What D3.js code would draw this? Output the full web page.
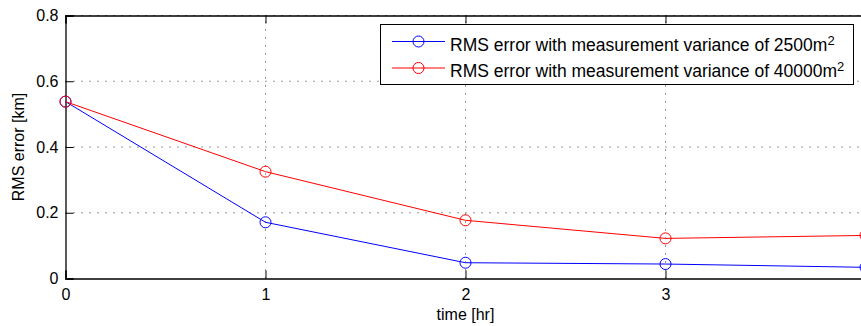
<!DOCTYPE html>
<html><head><meta charset="utf-8">
<script src="https://cdn.jsdelivr.net/npm/d3@7"></script>
<style>body{margin:0;background:#fff}svg{display:block}text{font-family:"Liberation Sans",Arial,sans-serif;}</style>
</head><body><svg id="c" width="861" height="326"></svg>
<script>
const times = [0, 1, 2, 3, 4];
const blueVals = [0.538, 0.171, 0.048, 0.044, 0.034];
const redVals = [0.538, 0.325, 0.177, 0.122, 0.131];
const xTicks = [0, 1, 2, 3, 4];
const yTicks = [0, 0.2, 0.4, 0.6, 0.8];
const yTickLabels = ["0", "0.2", "0.4", "0.6", "0.8"];
const legendLabels = ["RMS error with measurement variance of 2500m", "RMS error with measurement variance of 40000m"];
const colors = ["#0000ff", "#ff0000"];

const svg = d3.select("#c");
const x = d3.scaleLinear().domain([0, 4]).range([65.5, 865.5]);
const y = d3.scaleLinear().domain([0, 0.8]).range([278.5, 15.5]);

// grid
const grid = svg.append("g");
xTicks.slice(1).forEach(t => grid.append("line").attr("x1", x(t)).attr("x2", x(t)).attr("y1", y(0)).attr("y2", y(0.8))
  .attr("stroke", "#333").attr("stroke-width", 1).attr("stroke-dasharray", "1,7"));
yTicks.slice(1).forEach(t => grid.append("line").attr("x1", x(0)).attr("x2", x(4)).attr("y1", y(t)).attr("y2", y(t))
  .attr("stroke", "#333").attr("stroke-width", 1).attr("stroke-dasharray", "1,7"));

// axes
const xAxis = d3.axisBottom(x).tickValues(xTicks).tickSize(-8).tickPadding(10).tickFormat(d3.format("d"));
const gx = svg.append("g").attr("transform", `translate(0,${y(0)})`).call(xAxis);
const yAxis = d3.axisLeft(y).tickValues(yTicks).tickSize(-8).tickPadding(7).tickFormat((d, i) => yTickLabels[i]);
const gy = svg.append("g").attr("transform", `translate(${x(0)},0)`).call(yAxis);
[gx, gy].forEach(g => {
  g.select(".domain").attr("stroke", "#000").attr("stroke-width", 1.3);
  g.selectAll(".tick line").attr("stroke", "#000");
  g.selectAll("text").attr("font-size", 16).attr("fill", "#000").attr("font-family", "Liberation Sans, Arial, sans-serif");
});
gx.selectAll(".tick text").attr("dy", "0.71em");
// top axis with ticks
const topAxis = d3.axisTop(x).tickValues(xTicks).tickSize(-8).tickFormat("");
const gt = svg.append("g").attr("transform", `translate(0,${y(0.8)})`).call(topAxis);
gt.select(".domain").attr("stroke", "#000").attr("stroke-width", 1.3);
gt.selectAll(".tick line").attr("stroke", "#000");

// lines
const line = d3.line().x((d, i) => x(times[i])).y(d => y(d));
[blueVals, redVals].forEach((vals, k) => {
  svg.append("path").datum(vals).attr("d", line).attr("fill", "none").attr("stroke", colors[k]).attr("stroke-width", 1);
  svg.selectAll(null).data(vals).enter().append("circle")
    .attr("cx", (d, i) => x(times[i])).attr("cy", d => y(d)).attr("r", 5.5)
    .attr("fill", "none").attr("stroke", colors[k]).attr("stroke-width", 1);
});

// labels
svg.append("text").attr("x", x(2)).attr("y", 320).attr("text-anchor", "middle").attr("font-size", 16).text("time [hr]");
svg.append("text").attr("transform", `translate(24,${y(0.4)}) rotate(-90)`).attr("text-anchor", "middle").attr("font-size", 16).text("RMS error [km]");

// legend
const lg = svg.append("g");
lg.append("rect").attr("x", 380.5).attr("y", 24.5).attr("width", 473).attr("height", 60).attr("fill", "#fff").attr("stroke", "#000").attr("stroke-width", 1);
legendLabels.forEach((lab, i) => {
  const cy = 41.5 + i * 26.5;
  lg.append("line").attr("x1", 392).attr("x2", 445).attr("y1", cy).attr("y2", cy).attr("stroke", colors[i]);
  lg.append("circle").attr("cx", 418.5).attr("cy", cy).attr("r", 5.5).attr("fill", "none").attr("stroke", colors[i]);
  const t = lg.append("text").attr("x", 450).attr("y", cy + 9).attr("font-size", 17.5);
  t.append("tspan").text(lab);
  t.append("tspan").attr("dy", -6).attr("font-size", 13).text("2");
});
</script></body></html>
